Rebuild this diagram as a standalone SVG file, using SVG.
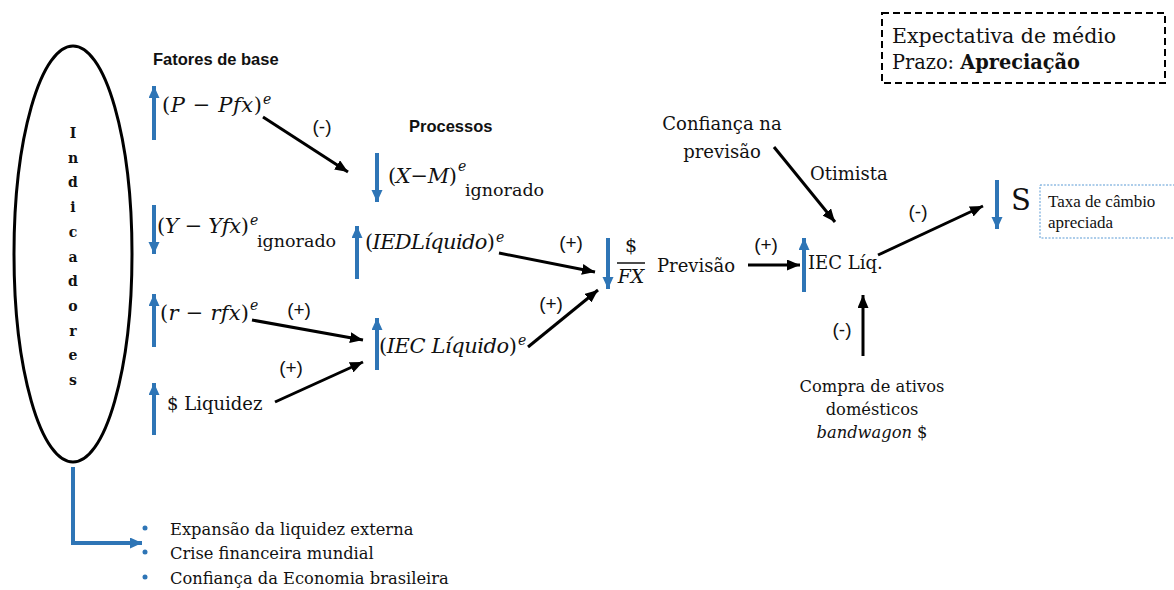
<svg xmlns="http://www.w3.org/2000/svg" width="1174" height="590" viewBox="0 0 1174 590">
<defs>
<marker id="bh" markerWidth="11" markerHeight="12" refX="12" refY="5.5" orient="auto" markerUnits="userSpaceOnUse"><path d="M0,0 L12,5.5 L0,11 z" fill="#2E75B6"/></marker>
<marker id="kh" markerWidth="13" markerHeight="11" refX="13" refY="5.5" orient="auto" markerUnits="userSpaceOnUse"><path d="M0,0 L13,5.5 L0,11 z" fill="#000"/></marker>
</defs>
<style>
.s{font-family:"DejaVu Serif","Liberation Serif",serif;font-size:18px;fill:#111}
.ig{font-size:17.5px}
.m{font-family:"DejaVu Serif","Liberation Serif",serif;font-size:21px;font-style:italic;fill:#111}
.up{font-style:normal}
.sup{font-family:"DejaVu Serif","Liberation Serif",serif;font-size:14px;font-style:italic;fill:#111}
.lb{font-family:"Liberation Sans","Open Sans",sans-serif;font-size:19px;fill:#111}
.hd{font-family:"Liberation Sans","Open Sans",sans-serif;font-size:16.5px;font-weight:bold;fill:#111}
.ind{font-family:"DejaVu Serif","Liberation Serif",serif;font-size:14px;font-weight:bold;fill:#111}
.bl{stroke:#2E75B6;stroke-width:4;fill:none}
.bk{stroke:#000;stroke-width:3;fill:none}
.li{font-family:"DejaVu Serif","Liberation Serif",serif;font-size:16.3px;fill:#111}
.big{font-size:20.5px}
</style>
<rect width="1174" height="590" fill="#fff"/>

<g id="indicadores">
<ellipse cx="73" cy="254" rx="59" ry="208" fill="none" stroke="#000" stroke-width="3"/>
<text class="ind" text-anchor="middle" x="73"><tspan x="73" y="138">I</tspan><tspan x="73" y="162.7">n</tspan><tspan x="73" y="187.4">d</tspan><tspan x="73" y="212.1">i</tspan><tspan x="73" y="236.8">c</tspan><tspan x="73" y="261.5">a</tspan><tspan x="73" y="286.2">d</tspan><tspan x="73" y="310.9">o</tspan><tspan x="73" y="335.6">r</tspan><tspan x="73" y="360.3">e</tspan><tspan x="73" y="385">s</tspan></text>
</g>

<g id="titulos">
<text class="hd" x="153" y="65">Fatores de base</text>
<text class="hd" x="409" y="132">Processos</text>
</g>

<g id="p-pfx">
<path class="bl" d="M154,140 V86" marker-end="url(#bh)"/>
<text class="m" x="162" y="112" textLength="100" lengthAdjust="spacing"><tspan class="up">(</tspan>P <tspan class="up">−</tspan> Pfx<tspan class="up">)</tspan></text>
<text class="sup" x="263" y="104">e</text>
</g>

<g id="y-yfx">
<path class="bl" d="M154,205 V254" marker-end="url(#bh)"/>
<text class="m" x="157" y="233" textLength="92" lengthAdjust="spacing"><tspan class="up">(</tspan>Y <tspan class="up">−</tspan> Yfx<tspan class="up">)</tspan></text>
<text class="sup" x="250" y="225">e</text>
<text class="s ig" x="257" y="247">ignorado</text>
</g>

<g id="r-rfx">
<path class="bl" d="M154,347 V294" marker-end="url(#bh)"/>
<text class="m" x="160" y="320" textLength="89" lengthAdjust="spacing"><tspan class="up">(</tspan>r <tspan class="up">−</tspan> rfx<tspan class="up">)</tspan></text>
<text class="sup" x="250" y="310">e</text>
</g>

<g id="liquidez">
<path class="bl" d="M154,435 V383" marker-end="url(#bh)"/>
<text class="s" x="167" y="410">$ Liquidez</text>
</g>

<g id="x-m">
<path class="bl" d="M377,153 V202" marker-end="url(#bh)"/>
<text class="m" x="388" y="183" textLength="69" lengthAdjust="spacing"><tspan class="up">(</tspan>X<tspan class="up">−</tspan>M<tspan class="up">)</tspan></text>
<text class="sup" x="458" y="171">e</text>
<text class="s ig" x="465" y="196">ignorado</text>
</g>

<g id="ied">
<path class="bl" d="M357,279 V226" marker-end="url(#bh)"/>
<text class="m" x="365" y="249" textLength="130" lengthAdjust="spacing"><tspan class="up">(</tspan>IEDLíquido<tspan class="up">)</tspan></text>
<text class="sup" x="496" y="242">e</text>
</g>

<g id="iec">
<path class="bl" d="M377,370 V318" marker-end="url(#bh)"/>
<text class="m" x="379" y="353" textLength="138" lengthAdjust="spacing"><tspan class="up">(</tspan>IEC Líquido<tspan class="up">)</tspan></text>
<text class="sup" x="518" y="345">e</text>
</g>

<g id="fx">
<path class="bl" d="M608,238 V289" marker-end="url(#bh)"/>
<text class="s" x="631" y="252" text-anchor="middle" style="font-size:19px">$</text>
<line x1="617" y1="263" x2="645" y2="263" stroke="#111" stroke-width="1.5"/>
<text class="m" x="631" y="283" text-anchor="middle" style="font-size:19px">FX</text>
</g>

<g id="previsao">
<text class="s" x="657" y="272">Previsão</text>
</g>

<g id="confianca">
<text class="s" x="722" y="130" text-anchor="middle">Confiança na</text>
<text class="s" x="722" y="158" text-anchor="middle">previsão</text>
</g>

<g id="otimista">
<text class="s" x="810" y="180">Otimista</text>
</g>

<g id="iec-liq">
<path class="bl" d="M804,292 V238" marker-end="url(#bh)"/>
<text class="s" x="808" y="269">IEC Líq.</text>
</g>

<g id="s">
<path class="bl" d="M997,180 V229" marker-end="url(#bh)"/>
<text class="s" x="1011" y="210" style="font-size:29px">S</text>
</g>

<g id="taxa">
<rect x="1040" y="185" width="145" height="53" fill="none" stroke="#5B9BD5" stroke-width="1" stroke-dasharray="2,1.5"/>
<text font-family="Liberation Serif, serif" font-size="17" fill="#111"><tspan x="1048" y="207">Taxa de câmbio</tspan><tspan x="1048" y="228">apreciada</tspan></text>
</g>

<g id="compra">
<text class="li" text-anchor="middle"><tspan x="872" y="392">Compra de ativos</tspan><tspan x="872" y="415">domésticos</tspan><tspan x="872" y="438"><tspan font-style="italic">bandwagon</tspan> $</tspan></text>
</g>

<g id="expectativa">
<rect x="882" y="13" width="283" height="70" fill="none" stroke="#000" stroke-width="2" stroke-dasharray="7,4"/>
<text class="s big" x="892" y="43">Expectativa de médio</text>
<text class="s big" x="892" y="69" textLength="188" lengthAdjust="spacingAndGlyphs">Prazo: <tspan font-weight="bold">Apreciação</tspan></text>
</g>

<g id="lista">
<circle cx="145" cy="528" r="2.5" fill="#2E75B6"/>
<circle cx="145" cy="552" r="2.5" fill="#2E75B6"/>
<circle cx="145" cy="577" r="2.5" fill="#2E75B6"/>
<text class="li"><tspan x="170" y="535">Expansão da liquidez externa</tspan><tspan x="170" y="559">Crise financeira mundial</tspan><tspan x="170" y="584">Confiança da Economia brasileira</tspan></text>
</g>

<g id="connectors">
<path class="bl" d="M73,467 V543 H142" marker-end="url(#bh)"/>
<line class="bk" x1="263" y1="117" x2="348" y2="172" marker-end="url(#kh)"/>
<line class="bk" x1="499" y1="253" x2="595" y2="272" marker-end="url(#kh)"/>
<line class="bk" x1="252" y1="320" x2="363" y2="340" marker-end="url(#kh)"/>
<line class="bk" x1="275" y1="402" x2="363" y2="362" marker-end="url(#kh)"/>
<line class="bk" x1="528" y1="347" x2="598" y2="290" marker-end="url(#kh)"/>
<line class="bk" x1="748" y1="265" x2="800" y2="265" marker-end="url(#kh)"/>
<line class="bk" x1="774" y1="147" x2="835" y2="222" marker-end="url(#kh)"/>
<line class="bk" x1="878" y1="255" x2="983" y2="206" marker-end="url(#kh)"/>
<line class="bk" x1="863" y1="356" x2="863" y2="295" marker-end="url(#kh)"/>
<text class="lb" x="322" y="133" text-anchor="middle">(-)</text>
<text class="lb" x="571" y="249" text-anchor="middle">(+)</text>
<text class="lb" x="299" y="316" text-anchor="middle">(+)</text>
<text class="lb" x="291" y="374" text-anchor="middle">(+)</text>
<text class="lb" x="551" y="310" text-anchor="middle">(+)</text>
<text class="lb" x="766" y="251" text-anchor="middle">(+)</text>
<text class="lb" x="918" y="218" text-anchor="middle">(-)</text>
<text class="lb" x="842" y="336" text-anchor="middle">(-)</text>
</g>
</svg>
